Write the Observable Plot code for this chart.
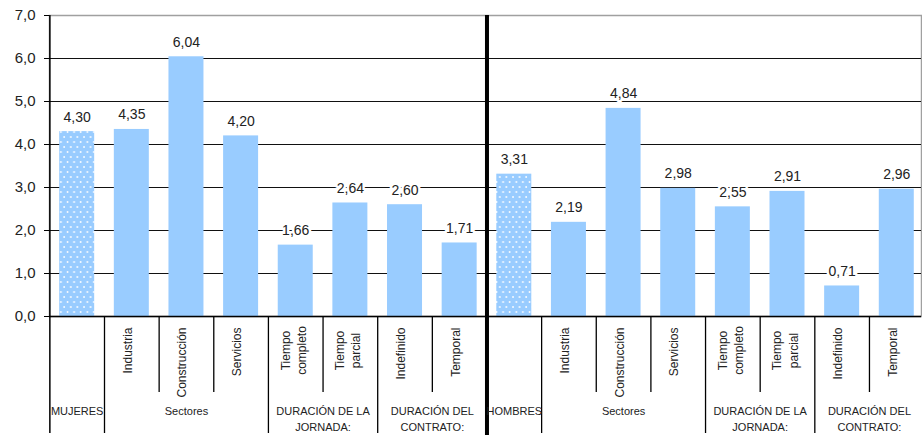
<!DOCTYPE html>
<html><head><meta charset="utf-8">
<script src="https://cdn.jsdelivr.net/npm/d3@7"></script>
<script src="https://cdn.jsdelivr.net/npm/@observablehq/plot@0.6"></script>
<style>body{margin:0;background:#fff}</style>
</head><body><div id="chart"></div>
<script>
const mujeresValues = [4.30, 4.35, 6.04, 4.20, 1.66, 2.64, 2.60, 1.71];
const hombresValues = [3.31, 2.19, 4.84, 2.98, 2.55, 2.91, 0.71, 2.96];
const subLabels = ["", "Industria", "Construcción", "Servicios", "Tiempo\ncompleto", "Tiempo\nparcial", "Indefinido", "Temporal"];
const groupLabelsM = ["MUJERES", "Sectores", "DURACIÓN DE LA\nJORNADA:", "DURACIÓN DEL\nCONTRATO:"];
const groupLabelsH = ["HOMBRES", "Sectores", "DURACIÓN DE LA\nJORNADA:", "DURACIÓN DEL\nCONTRATO:"];
const groupSizes = [1, 3, 2, 2];
const yTicks = [0, 1, 2, 3, 4, 5, 6, 7];

const bars = [
  ...mujeresValues.map((v, i) => ({i, value: v, label: subLabels[i], total: i === 0})),
  ...hombresValues.map((v, i) => ({i: i + mujeresValues.length, value: v, label: subLabels[i], total: i === 0}))
];
const n = bars.length;
const groups = [];
let start = 0;
[groupLabelsM, groupLabelsH].forEach(labels => labels.forEach((name, k) => {
  groups.push({name, start, end: start + groupSizes[k]});
  start += groupSizes[k];
}));
const divider = mujeresValues.length;
const groupStarts = new Set(groups.map(g => g.start));
const fullBounds = groups.map(g => g.start).filter(b => b !== divider && b !== 0);
const shortBounds = d3.range(1, n).filter(b => !groupStarts.has(b));

const W = 922, H = 435, mL = 49, mR = 1, mT = 15, mB = 119;
const plotH = H - mT - mB;
const step = 54.64;
const fmt2 = v => v.toFixed(2).replace(".", ",");
const fmt1 = v => v.toFixed(1).replace(".", ",");
const inset = (step - 35) / 2;

const chart = Plot.plot({
  width: W, height: H,
  marginLeft: mL, marginRight: mR, marginTop: mT, marginBottom: mB,
  style: {fontFamily: "'Liberation Sans', Arial, sans-serif", color: "#222", background: "#fff"},
  x: {type: "linear", domain: [0, n], range: [49.36, 49.36 + step * n], axis: null},
  y: {domain: [0, 7], range: [H - mB, mT], label: null},
  marks: [
    Plot.frame({stroke: "#a0a0a0", strokeWidth: 1.5}),
    Plot.gridY({ticks: yTicks.slice(1, -1), stroke: "#111", strokeOpacity: 1, strokeWidth: 1}),
    Plot.rect(bars.filter(d => !d.total), {x1: "i", x2: d => d.i + 1, y1: d => 0, y2: "value", fill: "#99CCFF", insetLeft: inset, insetRight: inset}),
    Plot.rect(bars.filter(d => d.total), {x1: "i", x2: d => d.i + 1, y1: d => 0, y2: "value", fill: "url(#dots)", insetLeft: inset, insetRight: inset}),
    Plot.text(bars, {x: d => d.i + 0.5, y: "value", text: d => fmt2(d.value), lineAnchor: "bottom", dy: -10, fontSize: 14, fill: "#222", stroke: "white", strokeWidth: 5, paintOrder: "stroke"}),
    Plot.axisY({ticks: yTicks, tickFormat: fmt1, tickSize: 5, tickPadding: 9, fontSize: 15, stroke: "#000", fill: "#222", label: null}),
    Plot.ruleY([0], {stroke: "#000", strokeWidth: 1.5}),
    Plot.ruleX([0], {x: d => d, insetBottom: -117, stroke: "#000", strokeWidth: 1.5}),
    Plot.ruleX(fullBounds, {x: d => d, insetTop: plotH, insetBottom: -117, stroke: "#000", strokeWidth: 1.3}),
    Plot.ruleX(shortBounds, {x: d => d, insetTop: plotH, insetBottom: -76, stroke: "#000", strokeWidth: 1.3}),
    Plot.ruleX([divider], {x: d => d, insetBottom: -mB, stroke: "#000", strokeWidth: 4}),
    Plot.text(bars.filter(d => d.label && !d.label.includes("\n")), {x: d => d.i + 0.5, frameAnchor: "bottom", dy: 11, rotate: -90, textAnchor: "end", text: "label", fontSize: 12, fill: "#222"}),
    Plot.text(bars.filter(d => d.label.includes("\n")), {x: d => d.i + 0.5, frameAnchor: "bottom", dx: 10, dy: 34, rotate: -90, textAnchor: "middle", text: "label", fontSize: 12, lineHeight: 1.35, fill: "#222"}),
    Plot.text(groups, {x: d => (d.start + d.end) / 2, frameAnchor: "bottom", dy: 88, lineAnchor: "top", text: "name", fontSize: 11, lineHeight: 1.4, fill: "#222"})
  ]
});

const svg = d3.select(chart.tagName.toLowerCase() === "svg" ? chart : chart.querySelector("svg"));
const pat = svg.insert("defs", ":first-child").append("pattern")
  .attr("id", "dots").attr("patternUnits", "userSpaceOnUse").attr("width", 6.6).attr("height", 10);
pat.append("rect").attr("width", 6.6).attr("height", 10).attr("fill", "#99CCFF");
pat.append("circle").attr("cx", 1.5).attr("cy", 2).attr("r", 0.9).attr("fill", "#fff");
pat.append("circle").attr("cx", 4.8).attr("cy", 7).attr("r", 0.9).attr("fill", "#fff");

document.getElementById("chart").appendChild(chart);
</script>
</body></html>
